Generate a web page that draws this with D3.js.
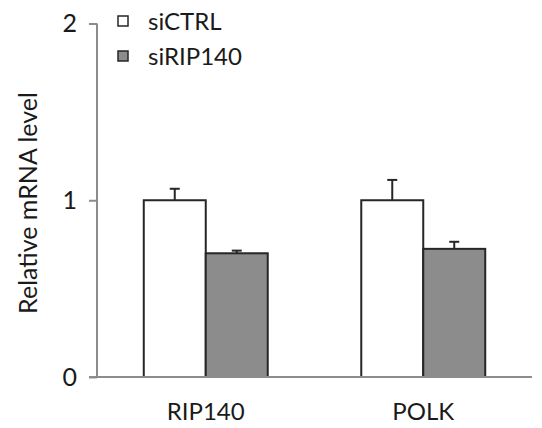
<!DOCTYPE html>
<html><head><meta charset="utf-8">
<script src="https://cdn.jsdelivr.net/npm/d3@7"></script>
<style>body{margin:0;background:#fff}svg{display:block}text{font-family:Lato,"Open Sans",sans-serif;fill:#1a1a1a}</style>
</head><body><svg id="c" width="542" height="428"></svg>
<script>
const categories = ["RIP140", "POLK"];
const seriesNames = ["siCTRL", "siRIP140"];
const siCTRL = [1.0, 1.0];
const siCTRLErr = [0.065, 0.115];
const siRIP140 = [0.70, 0.725];
const siRIP140Err = [0.015, 0.04];
const yTicks = [0, 1, 2];

const svg = d3.select("#c");
const x0 = 97, x1 = 532, yBot = 377, yTop = 23.5;
const x = d3.scaleBand().domain(categories).range([x0, x1]).paddingInner(0.43).paddingOuter(0.215);
const xs = d3.scaleBand().domain(seriesNames).range([0, x.bandwidth()]);
const y = d3.scaleLinear().domain([0, 2]).range([yBot, yTop]);
const fills = ["#ffffff", "#8c8c8c"];
const vals = [siCTRL, siRIP140], errs = [siCTRLErr, siRIP140Err];

// axes
const ya = svg.append("g").attr("transform", `translate(${x0},0)`)
  .call(d3.axisLeft(y).tickValues(yTicks).tickFormat(d3.format("d")).tickSize(8).tickPadding(12));
ya.select(".domain").remove();
ya.selectAll(".tick line").attr("stroke", "#8c8c8c").attr("stroke-width", 2);
ya.selectAll(".tick text").attr("font-size", 25).style("font-family", "Lato,'Open Sans',sans-serif").attr("fill", "#1a1a1a");
svg.append("line").attr("x1", x0).attr("x2", x0).attr("y1", y(2)).attr("y2", yBot).attr("stroke", "#8c8c8c").attr("stroke-width", 2);
svg.append("line").attr("x1", 89).attr("x2", x1).attr("y1", yBot).attr("y2", yBot).attr("stroke", "#8c8c8c").attr("stroke-width", 2);

// bars
seriesNames.forEach((s, si) => {
  const g = svg.append("g");
  categories.forEach((c, ci) => {
    const bx = x(c) + xs(s), w = xs.bandwidth(), v = vals[si][ci], e = errs[si][ci];
    const cx = bx + w / 2;
    g.append("line").attr("x1", cx).attr("x2", cx).attr("y1", y(v)).attr("y2", y(v + e)).attr("stroke", "#262626").attr("stroke-width", 2);
    g.append("line").attr("x1", cx - 5).attr("x2", cx + 5).attr("y1", y(v + e)).attr("y2", y(v + e)).attr("stroke", "#262626").attr("stroke-width", 2);
    g.append("rect").attr("x", bx).attr("y", y(v)).attr("width", w).attr("height", yBot - y(v))
      .attr("fill", fills[si]).attr("stroke", "#262626").attr("stroke-width", 2);
  });
});
svg.append("line").attr("x1", x0).attr("x2", x1).attr("y1", yBot).attr("y2", yBot).attr("stroke", "#8c8c8c").attr("stroke-width", 2);

// category labels
categories.forEach(c => {
  svg.append("text").attr("x", x(c) + x.bandwidth() / 2).attr("y", 420).attr("text-anchor", "middle").attr("font-size", 24).text(c);
});

// y label
svg.append("text").attr("transform", "translate(37,203) rotate(-90)").attr("text-anchor", "middle").attr("font-size", 25).text("Relative mRNA level");

// legend
seriesNames.forEach((s, i) => {
  const ly = 21 + i * 35;
  svg.append("rect").attr("x", 118).attr("y", ly - 5).attr("width", 10).attr("height", 10).attr("fill", fills[i]).attr("stroke", "#262626").attr("stroke-width", 1.5);
  svg.append("text").attr("x", 148).attr("y", ly + 9).attr("font-size", 24).text(s);
});
</script></body></html>
